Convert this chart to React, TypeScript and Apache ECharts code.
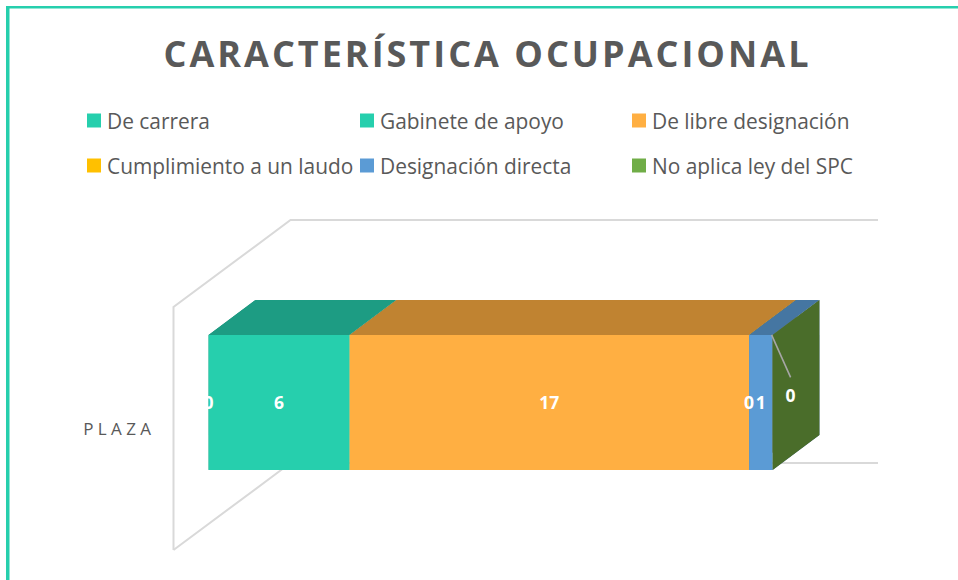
import React, { useEffect, useRef } from "react";
import * as echarts from "echarts";

const titleText = "CARACTERÍSTICA OCUPACIONAL";
const categories = ["PLAZA"];
const seriesNames = [
  "De carrera",
  "Gabinete de apoyo",
  "De libre designación",
  "Cumplimiento a un laudo",
  "Designación directa",
  "No aplica ley del SPC",
];
const deCarrera = [0];
const gabinete = [6];
const libreDesignacion = [17];
const laudo = [0];
const designacionDirecta = [1];
const noAplica = [0];
const seriesValues = [deCarrera, gabinete, libreDesignacion, laudo, designacionDirecta, noAplica];
const axisMax = 25;

const frontColors = ["#26cfad", "#26cfad", "#ffaf42", "#ffc000", "#5b9bd5", "#70ad47"];
const topColors = ["#1d9c83", "#1d9c83", "#c08331", "#bf9000", "#4576a2", "#557f36"];
const sideColors = ["#1a8a74", "#1a8a74", "#a87029", "#a67d00", "#3c6690", "#4a6d2a"];
const legendPos = [
  [87, 110],
  [360, 110],
  [632, 110],
  [87, 155],
  [360, 155],
  [632, 155],
];

const depthX = 117;
const depthY = 87;
const barRatio = 135 / 243;
const barDepth = 0.4;
const barOffset = 0.3;
const font = '"Open Sans", sans-serif';
const textColor = "#595959";
const wallColor = "#d9d9d9";

export default function App() {
  const ref = useRef<HTMLDivElement>(null);

  useEffect(() => {
    document.body.style.margin = "0";
    const chart = echarts.init(ref.current!, undefined, { renderer: "svg" });

    const wallSeries = {
      type: "custom",
      name: "walls",
      silent: true,
      data: [[0, 0]],
      renderItem: (params: any, api: any) => {
        const cs = params.coordSys;
        const l = cs.x;
        const t = cs.y;
        const b = cs.y + cs.height;
        const r = api.coord([axisMax, 0])[0] + depthX;
        const style = { stroke: wallColor, lineWidth: 2, fill: "none" };
        return {
          type: "group",
          children: [
            {
              type: "polyline",
              shape: { points: [[l, b], [l, t], [l + depthX, t - depthY], [r, t - depthY]] },
              style,
            },
            {
              type: "polyline",
              shape: { points: [[l, b], [l + depthX, b - depthY], [r, b - depthY]] },
              style,
            },
          ],
        };
      },
    };

    let acc = 0;
    const barSeries = seriesNames.map((name, idx) => {
      const v = seriesValues[idx][0];
      const start = acc;
      acc += v;
      const isLast = idx === seriesNames.length - 1;
      return {
        type: "custom",
        name,
        itemStyle: { color: frontColors[idx] },
        data: [[start, start + v, 0, v]],
        renderItem: (_p: any, api: any) => {
          const a = api.coord([api.value(0), api.value(2)]);
          const e = api.coord([api.value(1), api.value(2)]);
          const band = api.size([0, 1])[1];
          const h = band * barRatio;
          const ox = depthX * barOffset;
          const oy = depthY * barOffset;
          const dx = depthX * barDepth;
          const dy = depthY * barDepth;
          const x0 = a[0] + ox;
          const x1 = e[0] + ox;
          const yT = a[1] - oy - h / 2;
          const yB = a[1] - oy + h / 2;
          const children: any[] = [];
          children.push({
            type: "polygon",
            shape: { points: [[x1, yT], [x1 + dx, yT - dy], [x1 + dx, yB - dy], [x1, yB]] },
            style: { fill: sideColors[idx] },
          });
          if (x1 > x0) {
            children.push({
              type: "polygon",
              shape: { points: [[x0, yT], [x1, yT], [x1 + dx, yT - dy], [x0 + dx, yT - dy]] },
              style: { fill: topColors[idx] },
            });
            children.push({
              type: "rect",
              shape: { x: x0, y: yT, width: x1 - x0, height: h },
              style: { fill: frontColors[idx] },
            });
          }
          let lx = (x0 + x1) / 2;
          let ly = (yT + yB) / 2;
          if (isLast) {
            lx = x1 + 18;
            ly = (yT + yB) / 2 - 7;
            children.push({
              type: "line",
              shape: { x1: x1 - 1, y1: yT, x2: lx, y2: ly - 18 },
              style: { stroke: "#a6a6a6", lineWidth: 1.6 },
              z2: 50,
            });
          }
          children.push({
            type: "text",
            x: lx,
            y: ly,
            z2: 100,
            style: {
              text: String(api.value(3)),
              fill: "#ffffff",
              font: `bold 17.5px ${font}`,
              align: "center",
              verticalAlign: "middle",
            },
          });
          return { type: "group", children };
        },
      };
    });

    chart.setOption({
      animation: false,
      backgroundColor: "#ffffff",
      title: {
        text: titleText,
        left: 482.5,
        top: 30,
        textAlign: "center",
        textStyle: { fontFamily: font, fontWeight: "bold", fontSize: 36, color: textColor },
      },
      legend: seriesNames.map((n, i) => ({
        data: [n],
        left: legendPos[i][0],
        top: legendPos[i][1],
        padding: 0,
        icon: "rect",
        itemWidth: 14,
        itemHeight: 14,
        itemGap: 5,
        selectedMode: false,
        textStyle: { fontFamily: font, fontSize: 20.9, color: textColor, padding: [0, 0, 0, 1] },
      })),
      grid: { left: 173.5, top: 307, width: 587.5, height: 243 },
      xAxis: { type: "value", min: 0, max: axisMax, show: false },
      yAxis: {
        type: "category",
        data: categories,
        axisLine: { show: false },
        axisTick: { show: false },
        axisLabel: { margin: 18, padding: [4, 0, 0, 0], fontFamily: font, fontSize: 17, color: textColor },
      },
      graphic: [
        { type: "rect", shape: { x: 6, y: 6, width: 952, height: 2.5 }, style: { fill: "#26cfad" } },
        { type: "rect", shape: { x: 6, y: 6, width: 3.5, height: 574 }, style: { fill: "#26cfad" } },
      ],
      series: [wallSeries, ...barSeries],
    });

    const svgTexts = ref.current!.querySelectorAll("text");
    svgTexts.forEach((t) => {
      if (t.textContent === titleText) t.style.letterSpacing = "3px";
      if (t.textContent === categories[0]) t.style.letterSpacing = "4.4px";
    });

    return () => chart.dispose();
  }, []);

  return <div ref={ref} style={{ position: "absolute", left: 0, top: 0, width: 958, height: 580 }} />;
}
